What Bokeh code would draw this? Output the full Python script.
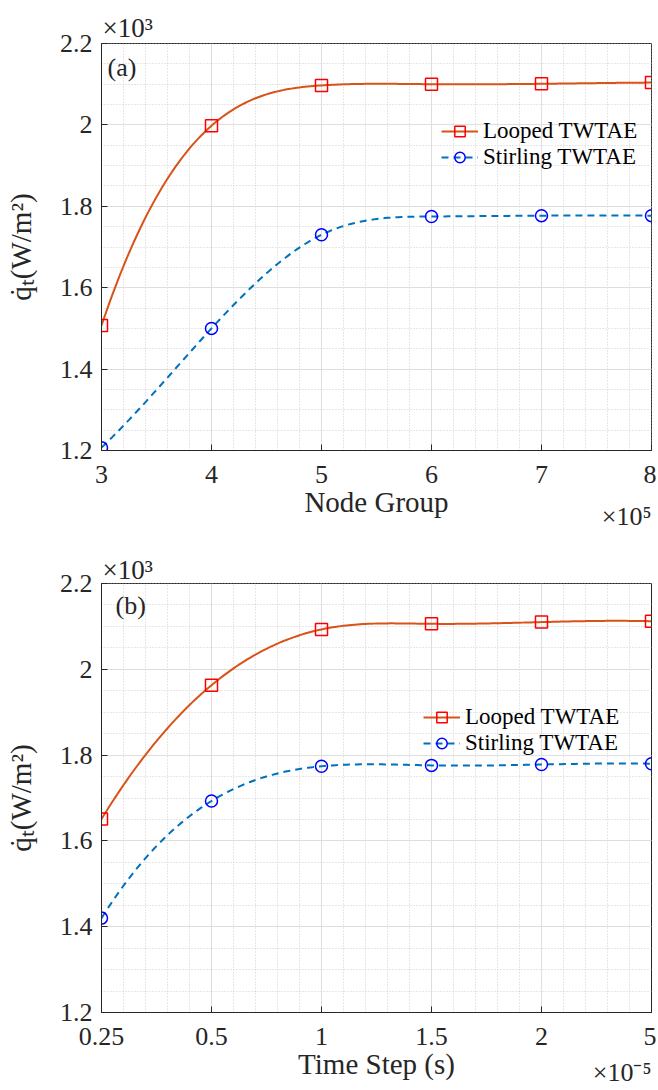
import numpy as np
from bokeh.plotting import figure
from bokeh.models import Range1d, FixedTicker, Legend, LegendItem, Label, Title
from bokeh.layouts import column
from bokeh.embed import file_html
from bokeh.resources import INLINE

# ---------------- data ----------------
node_group = [3, 4, 5, 6, 7, 8]                      # x10^5
looped_a = [1.507, 1.998, 2.097, 2.100, 2.101, 2.104]   # x10^3 W/m^2
stirling_a = [1.207, 1.500, 1.730, 1.775, 1.777, 1.777]

time_step_labels = ["0.25", "0.5", "1", "1.5", "2", "5"]   # x10^-5 s
looped_b = [1.651, 1.963, 2.093, 2.106, 2.110, 2.112]
stirling_b = [1.420, 1.693, 1.774, 1.776, 1.778, 1.780]

y_tick_labels = ["1.2", "1.4", "1.6", "1.8", "2", "2.2"]
series_names = ["Looped TWTAE", "Stirling TWTAE"]

SERIF = "Liberation Serif"
AX = "#262626"


def smooth(xs, ys, per=40):
    """not-a-knot cubic spline through the data points (drawing only)"""
    x = np.asarray(xs, float)
    y = np.asarray(ys, float)
    n = len(x)
    h = np.diff(x)
    A = np.zeros((n, n))
    b = np.zeros(n)
    A[0, 0], A[0, 1], A[0, 2] = -h[1], h[0] + h[1], -h[0]
    for i in range(1, n - 1):
        A[i, i - 1] = h[i - 1]
        A[i, i] = 2 * (h[i - 1] + h[i])
        A[i, i + 1] = h[i]
        b[i] = 6 * ((y[i + 1] - y[i]) / h[i] - (y[i] - y[i - 1]) / h[i - 1])
    A[n - 1, n - 3], A[n - 1, n - 2], A[n - 1, n - 1] = -h[n - 2], h[n - 3] + h[n - 2], -h[n - 3]
    M = np.linalg.solve(A, b)
    ox, oy = [], []
    for i in range(n - 1):
        t = np.linspace(x[i], x[i + 1], per, endpoint=(i == n - 2))
        hi = h[i]
        s = (M[i] * (x[i + 1] - t) ** 3 / (6 * hi) + M[i + 1] * (t - x[i]) ** 3 / (6 * hi)
             + (y[i] / hi - M[i] * hi / 6) * (x[i + 1] - t)
             + (y[i + 1] / hi - M[i + 1] * hi / 6) * (t - x[i]))
        ox.extend(t.tolist())
        oy.extend(s.tolist())
    return ox, oy


def make_panel(xv, looped, stirling, x_ticks, x_overrides, x_title, exp_text,
               tag, height, top, bottom, legend_loc, tag_dx, tag_dy,
               title_standoff, exp_standoff):
    y_ticks = [float(s) for s in y_tick_labels]
    p = figure(width=656, height=height,
               x_range=Range1d(x_ticks[0], x_ticks[-1]),
               y_range=Range1d(y_ticks[0], y_ticks[-1]),
               output_backend="svg", toolbar_location=None,
               min_border_left=101, min_border_right=5,
               min_border_top=top, min_border_bottom=bottom)
    p.background_fill_color = "white"
    p.border_fill_color = "white"
    p.outline_line_color = AX
    p.outline_line_width = 1
    p.outline_line_alpha = 1

    x_minor = np.arange(x_ticks[0], x_ticks[-1] + 1e-9, (x_ticks[1] - x_ticks[0]) / 5).tolist()
    y_minor = np.arange(y_ticks[0], y_ticks[-1] + 1e-9, 0.05).tolist()
    xt = FixedTicker(ticks=x_ticks, minor_ticks=x_minor)
    yt = FixedTicker(ticks=y_ticks, minor_ticks=y_minor)
    p.xaxis.ticker = xt
    p.yaxis.ticker = yt
    p.xgrid.ticker = xt
    p.ygrid.ticker = yt
    if x_overrides:
        p.xaxis.major_label_overrides = x_overrides
    p.yaxis.major_label_overrides = {v: s for v, s in zip(y_ticks, y_tick_labels)}

    for g in (p.xgrid, p.ygrid):
        g.grid_line_color = "#dedede"
        g.grid_line_width = 1
        g.minor_grid_line_color = "#cfcfcf"
        g.minor_grid_line_dash = "1 2"
        g.minor_grid_line_width = 1

    for ax in (p.xaxis[0], p.yaxis[0]):
        ax.axis_line_color = AX
        ax.major_tick_line_color = AX
        ax.major_tick_in = 6
        ax.major_tick_out = 0
        ax.minor_tick_in = 0
        ax.minor_tick_out = 0
        ax.major_label_text_font = SERIF
        ax.major_label_text_font_size = "26px"
        ax.major_label_text_color = AX
        ax.axis_label_text_font = SERIF
        ax.axis_label_text_font_size = "29px"
        ax.axis_label_text_font_style = "normal"
        ax.axis_label_text_color = AX
    p.xaxis.major_label_standoff = 15
    p.yaxis.major_label_standoff = 9
    p.xaxis.axis_label = x_title
    p.xaxis.axis_label_standoff = 0
    p.yaxis.axis_label = "q\u0307\u209c(W/m\u00b2)"
    p.yaxis.axis_label_standoff = 20

    p.title.text = "\u00d710\u00b3"
    p.title.align = "left"
    p.title.text_font = SERIF
    p.title.text_font_size = "27px"
    p.title.text_font_style = "normal"
    p.title.text_color = AX
    p.title.standoff = title_standoff
    p.title.offset = 1

    exp_title = Title(text=exp_text, align="right", vertical_align="top",
                      text_font=SERIF, text_font_size="26px",
                      text_font_style="normal", text_color=AX, standoff=exp_standoff)
    p.add_layout(exp_title, "below")

    lx, ly = smooth(xv, looped)
    sx, sy = smooth(xv, stirling)
    l1 = p.line(lx, ly, line_color="#D95319", line_width=2)
    m1 = p.scatter(xv, looped, marker="square", size=12, line_color="#FF0000",
                   fill_alpha=0, line_width=1.5)
    l2 = p.line(sx, sy, line_color="#0072BD", line_width=2, line_dash="7 5")
    m2 = p.scatter(xv, stirling, marker="circle", size=12, line_color="#0000FF",
                   fill_alpha=0, line_width=1.5)

    legend = Legend(items=[LegendItem(label=series_names[0], renderers=[l1, m1]),
                           LegendItem(label=series_names[1], renderers=[l2, m2])],
                    location=legend_loc)
    legend.label_text_font = SERIF
    legend.label_text_font_size = "23px"
    legend.label_text_color = "black"
    legend.label_height = 26
    legend.glyph_height = 26
    legend.glyph_width = 37
    legend.label_standoff = 5
    legend.spacing = 0
    legend.padding = 0
    legend.margin = 0
    legend.border_line_alpha = 0
    legend.background_fill_alpha = 0
    p.add_layout(legend)

    p.add_layout(Label(x=x_ticks[0], y=y_ticks[-1], text=tag, x_offset=tag_dx, y_offset=tag_dy,
                       text_baseline="top", text_align="left", text_font=SERIF,
                       text_font_size="26px", text_color=AX))
    return p


pa = make_panel(node_group, looped_a, stirling_a, node_group, None, "Node Group",
                "\u00d710\u2075", "(a)", 545, 43, 95, (340, 280), 6, -9, 2, -38)

idx = list(range(len(time_step_labels)))
pb = make_panel(idx, looped_b, stirling_b, idx,
                {i: s for i, s in enumerate(time_step_labels)}, "Time Step (s)",
                "\u00d710\u207b\u2075", "(b)", 543, 38, 76, (322, 256), 14, -7, -3, -50)

layout = column(pa, pb, spacing=0)
open("out.html", "w").write(file_html(layout, INLINE))
